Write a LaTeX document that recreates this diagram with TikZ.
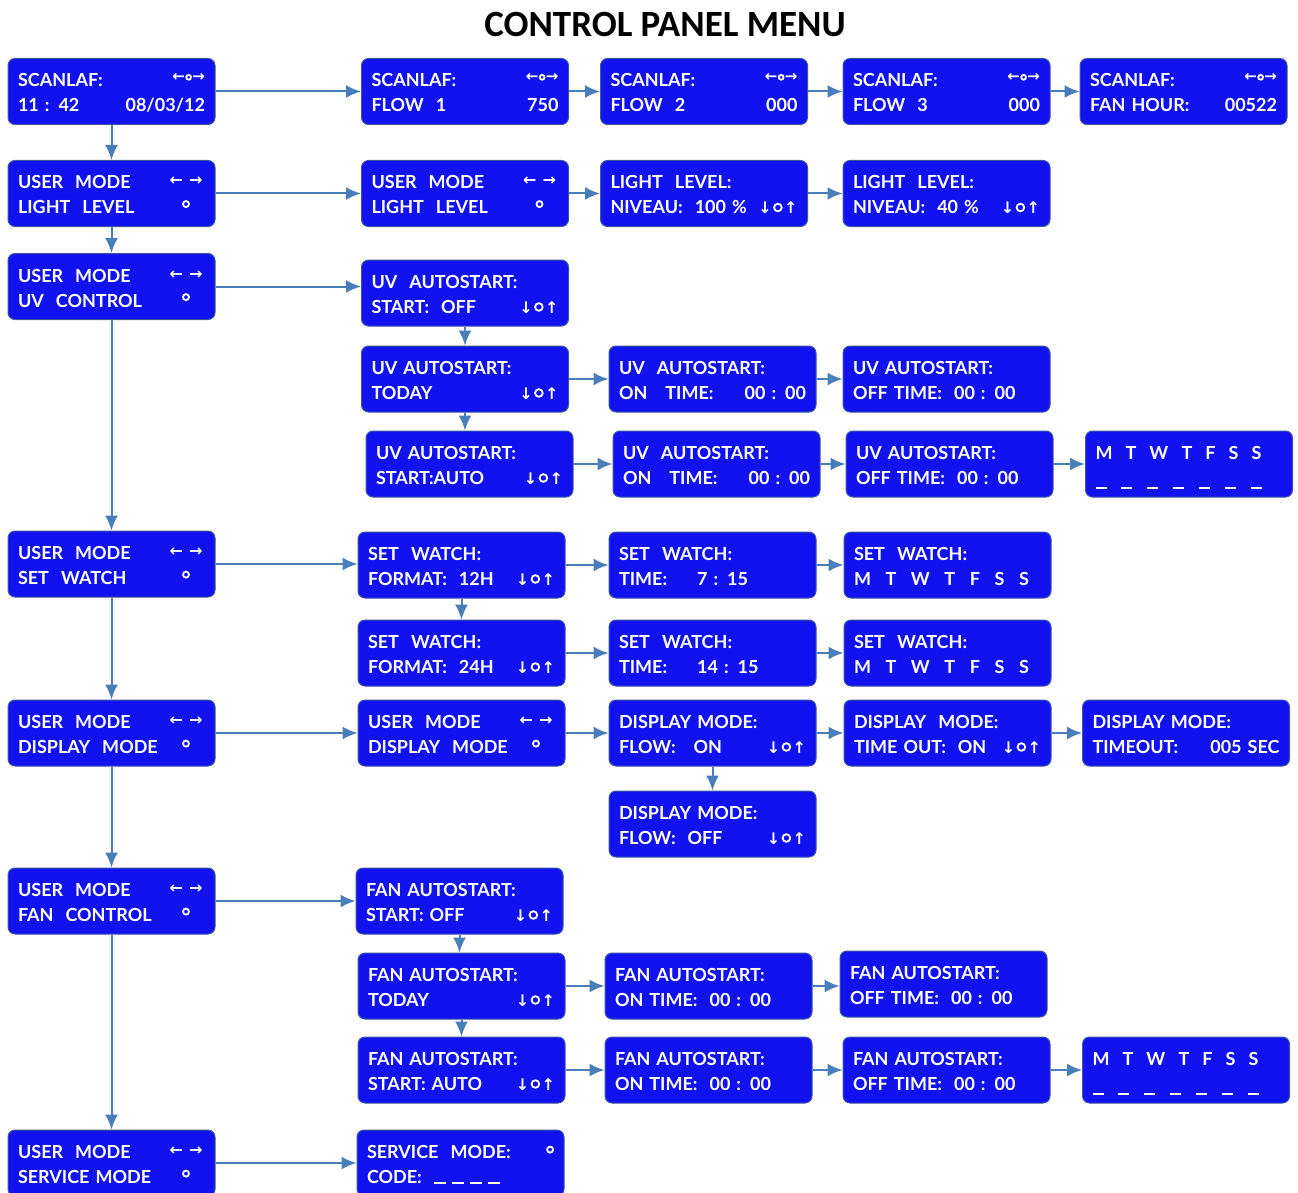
\documentclass[tikz,border=0pt]{standalone}
\usepackage{fontspec}
\setmainfont{Lato}
\newfontfamily\titlefont{Carlito}
\newfontfamily\symfont{DejaVu Sans}
\usetikzlibrary{arrows.meta}

\definecolor{lcdblue}{RGB}{18,18,240}
\definecolor{lcdedge}{RGB}{60,86,160}
\definecolor{linkblue}{RGB}{74,126,187}

% one display: two lines, text left and symbol right
\newcommand\lcdstrut{\rule[-4pt]{0pt}{24pt}}
\newcommand\lcd[4]{\lcdstrut#1\hfill#2\\\lcdstrut#3\hfill#4}
% thick white ring (radius, raise)
\newcommand\ring[2]{\raisebox{#2}{\tikz\draw[white,line width=1.8pt,fill=none] (0,0) circle[radius=#1];}}
\newcommand\scanicon{\raisebox{5pt}{\symfont\bfseries\fontsize{15}{15}\selectfont ←\kern.5pt\ring{2.4pt}{1.4pt}\kern.5pt→}}
\newcommand\arrpair{\makebox[38pt][c]{\raisebox{3pt}{\symfont\bfseries\fontsize{16}{16}\selectfont ←\hspace{6pt}→}}}
\newcommand\ringmid{\makebox[38pt][c]{\ring{3pt}{6pt}}}
\newcommand\updown{{\symfont\bfseries\fontsize{16}{16}\selectfont ↓\kern1.5pt\ring{3.8pt}{1.8pt}\kern1.5pt↑}}
\newcommand\weekrow[1]{\makebox[#1]{M\hfill T\hfill W\hfill T\hfill F\hfill S\hfill S}}
\newcommand\dash{\rule{11pt}{2pt}}
\newcommand\blankrow[1]{\makebox[#1]{\dash\hfill\dash\hfill\dash\hfill\dash\hfill\dash\hfill\dash\hfill\dash}}

\begin{document}
\begin{tikzpicture}[x=1pt,y=-1pt,
  panel/.style={draw=lcdedge,line width=1pt,fill=lcdblue,rounded corners=7pt,
    minimum width=207pt,minimum height=66pt,inner xsep=10pt,inner ysep=0pt,
    text width=187pt,align=left,text=white,font=\bfseries\fontsize{18}{25}\selectfont},
  link/.style={draw=linkblue,line width=2pt,-{Latex[length=15pt,width=13pt]}}]
\useasboundingbox (0,0) rectangle (1298,1193);

\node[font=\titlefont\bfseries\fontsize{37}{42}\selectfont] (title) at (665,25) {CONTROL PANEL MENU};

% main menu
\node[panel] (scan)  at (111.5,91.5) {\lcd{SCANLAF:}{\scanicon}{11 : 42}{08/03/12}};
\node[panel] (light) at (111.5,193.5) {\lcd{USER~~MODE}{\arrpair}{LIGHT~~LEVEL}{\ringmid}};
\node[panel] (uv)    at (111.5,286.5) {\lcd{USER~~MODE}{\arrpair}{UV~~CONTROL}{\ringmid}};
\node[panel] (watch) at (111.5,564) {\lcd{USER~~MODE}{\arrpair}{SET~~WATCH}{\ringmid}};
\node[panel] (disp)  at (111.5,733) {\lcd{USER~~MODE}{\arrpair}{DISPLAY~~MODE}{\ringmid}};
\node[panel] (fan)   at (111.5,901) {\lcd{USER~~MODE}{\arrpair}{FAN~~CONTROL}{\ringmid}};
\node[panel] (serv)  at (111.5,1163) {\lcd{USER~~MODE}{\arrpair}{SERVICE MODE}{\ringmid}};

% scanlaf
\node[panel] (flow1)   at (465,91.5) {\lcd{SCANLAF:}{\scanicon}{FLOW~~1}{750}};
\node[panel] (flow2)   at (704,91.5) {\lcd{SCANLAF:}{\scanicon}{FLOW~~2}{000}};
\node[panel] (flow3)   at (946.5,91.5) {\lcd{SCANLAF:}{\scanicon}{FLOW~~3}{000}};
\node[panel] (fanhour) at (1183.5,91.5) {\lcd{SCANLAF:}{\scanicon}{FAN HOUR:}{00522}};

% light level
\node[panel] (lightsel) at (465,193.5) {\lcd{USER~~MODE}{\arrpair}{LIGHT~~LEVEL}{\ringmid}};
\node[panel] (niv100)   at (704,193.5) {\lcd{LIGHT~~LEVEL:}{}{NIVEAU:~~100 \%}{\updown}};
\node[panel] (niv40)    at (946.5,193.5) {\lcd{LIGHT~~LEVEL:}{}{NIVEAU:~~40 \%}{\updown}};

% uv control
\node[panel] (uvoff)   at (465,293) {\lcd{UV~~AUTOSTART:}{}{START:~~OFF}{\updown}};
\node[panel] (uvtoday) at (465,379) {\lcd{UV AUTOSTART:}{}{TODAY}{\updown}};
\node[panel] (uvon)    at (712.5,379) {\lcd{UV~~AUTOSTART:}{}{ON~~~TIME:}{00 : 00}};
\node[panel] (uvofft)  at (946.5,379) {\lcd{UV AUTOSTART:}{}{OFF TIME:~~00 : 00}{}};
\node[panel] (uvauto)  at (469.5,464) {\lcd{UV AUTOSTART:}{}{START:AUTO}{\updown}};
\node[panel] (uvon2)   at (716.5,464) {\lcd{UV~~AUTOSTART:}{}{ON~~~TIME:}{00 : 00}};
\node[panel] (uvofft2) at (949.5,464) {\lcd{UV AUTOSTART:}{}{OFF TIME:~~00 : 00}{}};
\node[panel] (uvdays)  at (1189,464) {\lcd{\weekrow{166pt}}{}{\raisebox{-4pt}{\blankrow{166pt}}}{}};

% set watch
\node[panel] (fmt12)  at (461.5,565) {\lcd{SET~~WATCH:}{}{FORMAT:~~12H}{\updown}};
\node[panel] (time7)  at (712.5,565) {\lcd{SET~~WATCH:}{}{TIME:\hspace{30pt}7 : 15}{}};
\node[panel] (days7)  at (947.5,565) {\lcd{SET~~WATCH:}{}{\weekrow{175pt}}{}};
\node[panel] (fmt24)  at (461.5,653) {\lcd{SET~~WATCH:}{}{FORMAT:~~24H}{\updown}};
\node[panel] (time14) at (712.5,653) {\lcd{SET~~WATCH:}{}{TIME:\hspace{30pt}14 : 15}{}};
\node[panel] (days14) at (947.5,653) {\lcd{SET~~WATCH:}{}{\weekrow{175pt}}{}};

% display mode
\node[panel] (dispsel) at (461.5,733) {\lcd{USER~~MODE}{\arrpair}{DISPLAY~~MODE}{\ringmid}};
\node[panel] (flowon)  at (712.5,733) {\lcd{DISPLAY MODE:}{}{FLOW:~~~ON}{\updown}};
\node[panel] (toon)    at (947.5,733) {\lcd{DISPLAY~~MODE:}{}{TIME OUT:~~ON}{\updown}};
\node[panel] (tosec)   at (1186,733) {\lcd{DISPLAY MODE:}{}{TIMEOUT:}{005 SEC\hspace{6pt}}};
\node[panel] (flowoff) at (712.5,824) {\lcd{DISPLAY MODE:}{}{FLOW:~~OFF}{\updown}};

% fan control
\node[panel] (fanoff)   at (459.5,901) {\lcd{FAN AUTOSTART:}{}{START: OFF}{\updown}};
\node[panel] (fantoday) at (461.5,986) {\lcd{FAN AUTOSTART:}{}{TODAY}{\updown}};
\node[panel] (fanon)    at (708.5,986) {\lcd{FAN AUTOSTART:}{}{ON TIME:~~00 : 00}{}};
\node[panel] (fanofft)  at (943.5,984) {\lcd{FAN AUTOSTART:}{}{OFF TIME:~~00 : 00}{}};
\node[panel] (fanauto)  at (461.5,1070) {\lcd{FAN AUTOSTART:}{}{START: AUTO}{\updown}};
\node[panel] (fanon2)   at (708.5,1070) {\lcd{FAN AUTOSTART:}{}{ON TIME:~~00 : 00}{}};
\node[panel] (fanofft2) at (946.5,1070) {\lcd{FAN AUTOSTART:}{}{OFF TIME:~~00 : 00}{}};
\node[panel] (fandays)  at (1186,1070) {\lcd{\weekrow{166pt}}{}{\raisebox{-4pt}{\blankrow{166pt}}}{}};

% service
\node[panel] (servcode) at (460.5,1163) {\lcd{SERVICE~~MODE:}{\ring{3pt}{5pt}\hspace{6pt}}{CODE:~~\rule{12pt}{2pt}~\rule{12pt}{2pt}~\rule{12pt}{2pt}~\rule{12pt}{2pt}}{}};

% down the main menu
\foreach \a/\b in {scan/light, light/uv, uv/watch, watch/disp, disp/fan, fan/serv}
  \draw[link] (\a.south) -- (\b.north);

% into the sub menus
\foreach \a/\b in {scan/flow1, flow1/flow2, flow2/flow3, flow3/fanhour,
    light/lightsel, lightsel/niv100, niv100/niv40, uv/uvoff,
    uvtoday/uvon, uvon/uvofft, uvauto/uvon2, uvon2/uvofft2, uvofft2/uvdays,
    watch/fmt12, fmt12/time7, time7/days7, fmt24/time14, time14/days14,
    disp/dispsel, dispsel/flowon, flowon/toon, toon/tosec,
    fan/fanoff, fantoday/fanon, fanon/fanofft,
    fanauto/fanon2, fanon2/fanofft2, fanofft2/fandays, serv/servcode}
  \draw[link] (\a.east) -- (\a.east -| \b.west);

% between the choices
\foreach \a/\b in {uvoff/uvtoday, uvtoday/uvauto, fmt12/fmt24,
    flowon/flowoff, fanoff/fantoday, fantoday/fanauto}
  \draw[link] (\a.south) -- (\a.south |- \b.north);
\end{tikzpicture}
\end{document}
